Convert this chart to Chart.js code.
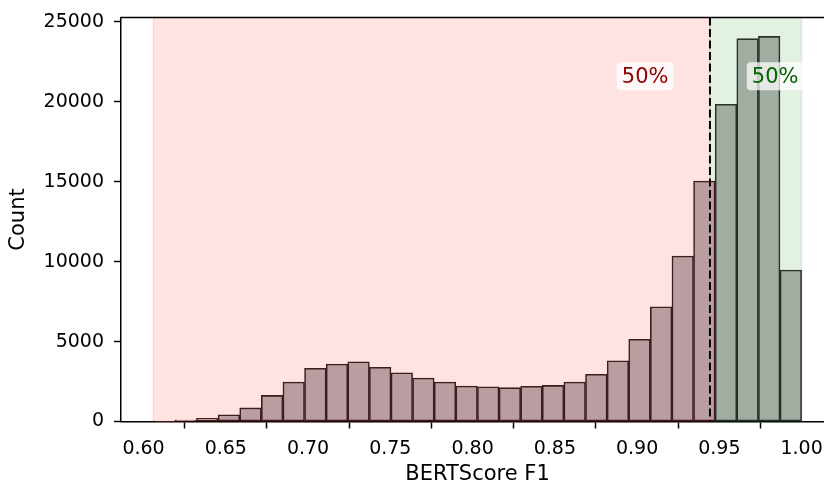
<!DOCTYPE html>
<html><head><meta charset="utf-8">
<script src="https://cdn.jsdelivr.net/npm/chart.js@4.4.1/dist/chart.umd.min.js"></script>
<style>html,body{margin:0;padding:0;overflow:hidden;background:#fff}
#wrap{width:850px;height:487px;position:relative}</style></head>
<body><div id="wrap"><canvas id="c" width="850" height="487"></canvas></div>
<script>
// Histogram bin centres (BERTScore F1)
const binCenters = [0.61247, 0.62561, 0.63874, 0.65188, 0.66502, 0.67815, 0.69129, 0.70443, 0.71757, 0.73070,
                    0.74384, 0.75698, 0.77011, 0.78325, 0.79639, 0.80952, 0.82266, 0.83580, 0.84893, 0.86207,
                    0.87521, 0.88835, 0.90148, 0.91462, 0.92776, 0.94089, 0.95403, 0.96717, 0.98030, 0.99344];
// Counts below the median (red) and above the median (green)
const redCounts = [20, 90, 200, 420, 850, 1630, 2470, 3325, 3595, 3740,
                   3390, 3050, 2720, 2470, 2220, 2175, 2115, 2200, 2260, 2470,
                   2950, 3800, 5140, 7180, 10350, 15040];
const greenCounts = [19850, 23950, 24090, 9480];
const xTicks = [0.60, 0.65, 0.70, 0.75, 0.80, 0.85, 0.90, 0.95, 1.00];
const yTicks = [0, 5000, 10000, 15000, 20000, 25000];
const scoreMin = 0.6059;
const scoreMax = 1.0;
const medianScore = 0.9443;
const shareLabels = ['50%', '50%'];
const shareLabelX = [0.9049, 0.9839];
const shareLabelY = 21600;

const redPoints = redCounts.map((v, i) => ({x: binCenters[i], y: v}));
const greenPoints = greenCounts.map((v, i) => ({x: binCenters[redCounts.length + i], y: v}));

const FONT = 'DejaVu Sans';

const decor = {
  id: 'decor',
  beforeDatasetsDraw(chart) {
    const {ctx, chartArea: a, scales: {x}} = chart;
    const x0 = x.getPixelForValue(scoreMin), xm = x.getPixelForValue(medianScore), x1 = x.getPixelForValue(scoreMax);
    ctx.save();
    ctx.fillStyle = 'rgba(255,0,0,0.11)';
    ctx.fillRect(x0, a.top, xm - x0, a.bottom - a.top);
    ctx.strokeStyle = 'rgba(255,0,0,0.10)';
    ctx.lineWidth = 1.5;
    ctx.strokeRect(x0, a.top, xm - x0, a.bottom - a.top);
    ctx.fillStyle = 'rgba(0,128,0,0.11)';
    ctx.fillRect(xm, a.top, x1 - xm, a.bottom - a.top);
    ctx.strokeStyle = 'rgba(0,128,0,0.10)';
    ctx.strokeRect(xm, a.top, x1 - xm, a.bottom - a.top);
    ctx.restore();
  },
  afterDatasetsDraw(chart) {
    const {ctx, chartArea: a, scales: {x, y}} = chart;
    ctx.save();
    const xm = x.getPixelForValue(medianScore);
    ctx.strokeStyle = '#000';
    ctx.lineWidth = 2;
    ctx.setLineDash([8, 3.5]);
    ctx.beginPath();
    ctx.moveTo(xm, a.top);
    ctx.lineTo(xm, a.bottom);
    ctx.stroke();
    ctx.setLineDash([]);
    ctx.font = '21px "' + FONT + '"';
    ctx.textAlign = 'center';
    ctx.textBaseline = 'middle';
    const colors = ['#8b0000', '#006400'];
    shareLabels.forEach((t, i) => {
      const cx = x.getPixelForValue(shareLabelX[i]);
      const cy = y.getPixelForValue(shareLabelY);
      const w = ctx.measureText(t).width + 10;
      const h = 28;
      ctx.fillStyle = 'rgba(255,255,255,0.72)';
      ctx.beginPath();
      ctx.roundRect(cx - w / 2, cy - h / 2, w, h, 4);
      ctx.fill();
      ctx.fillStyle = colors[i];
      ctx.fillText(t, cx, cy + 1);
    });
    ctx.strokeStyle = '#000';
    ctx.lineWidth = 1.5;
    ctx.beginPath();
    ctx.moveTo(a.left - 0.75, a.top);
    ctx.lineTo(a.right, a.top);
    ctx.lineTo(a.right, a.bottom);
    ctx.stroke();
    ctx.restore();
  }
};

new Chart(document.getElementById('c'), {
  type: 'bar',
  data: {
    datasets: [
      {label: 'below', data: redPoints, backgroundColor: 'rgb(186,157,160)', borderColor: 'rgb(64,28,31)',
       borderWidth: 1.6, borderSkipped: false, grouped: false, barPercentage: 1, categoryPercentage: 1},
      {label: 'above', data: greenPoints, backgroundColor: 'rgb(161,173,161)', borderColor: 'rgb(38,50,38)',
       borderWidth: 1.6, borderSkipped: false, grouped: false, barPercentage: 1, categoryPercentage: 1}
    ]
  },
  options: {
    responsive: false,
    animation: false,
    devicePixelRatio: 1,
    layout: {padding: {left: 0, right: 16, top: 17.5, bottom: 0}},
    plugins: {legend: {display: false}, tooltip: {enabled: false}},
    scales: {
      x: {
        type: 'linear', min: 0.5863, max: 1.0197, offset: false,
        afterBuildTicks: s => { s.ticks = xTicks.map(v => ({value: v})); },
        afterFit: s => { s.height = 65.5; s.paddingLeft = 0; s.paddingRight = 0; },
        grid: {drawOnChartArea: false, drawTicks: true, tickLength: 7, tickWidth: 1.5, tickColor: '#000'},
        border: {display: true, color: '#000', width: 1.5},
        ticks: {color: '#000', font: {family: FONT, size: 19}, padding: 9, maxRotation: 0, autoSkip: false,
                callback: v => Number(v).toFixed(2)},
        title: {display: true, text: 'BERTScore F1', color: '#000', font: {family: FONT, size: 21}, padding: {top: 0, bottom: 0}}
      },
      y: {
        min: 0, max: 25275,
        afterBuildTicks: s => { s.ticks = yTicks.map(v => ({value: v})); },
        afterFit: s => { s.width = 121; s.paddingTop = 0; s.paddingBottom = 0; },
        grid: {drawOnChartArea: false, drawTicks: true, tickLength: 7, tickWidth: 1.5, tickColor: '#000'},
        border: {display: true, color: '#000', width: 1.5},
        ticks: {color: '#000', font: {family: FONT, size: 19}, padding: 10, callback: v => String(v)},
        title: {display: true, text: 'Count', color: '#000', font: {family: FONT, size: 21}, padding: {top: 6, bottom: 0}}
      }
    }
  },
  plugins: [decor]
});
</script></body></html>
